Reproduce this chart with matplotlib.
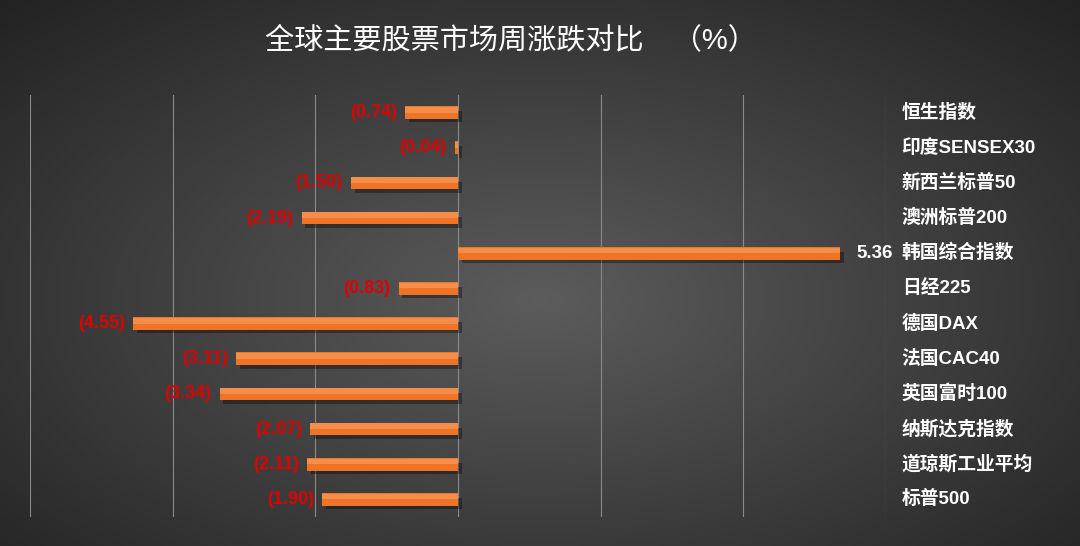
import matplotlib
matplotlib.use("Agg")
import matplotlib.pyplot as plt
import numpy as np

plt.rcParams['font.family'] = ['Liberation Sans', 'Noto Sans CJK SC', 'DejaVu Sans']

categories = ["恒生指数", "印度SENSEX30", "新西兰标普50", "澳洲标普200", "韩国综合指数",
              "日经225", "德国DAX", "法国CAC40", "英国富时100", "纳斯达克指数",
              "道琼斯工业平均", "标普500"]
values = [-0.74, -0.04, -1.50, -2.19, 5.36, -0.83, -4.55, -3.11, -3.34, -2.07, -2.11, -1.90]

W, H = 1080, 546
fig = plt.figure(figsize=(W/100, H/100), dpi=100)

bg = fig.add_axes([0, 0, 1, 1])
yy, xx = np.mgrid[0:1:200j, 0:1:400j]
r = np.sqrt(((xx-0.5)/0.7)**2 + ((yy-0.45)/0.75)**2)
g = np.clip(0.36 - 0.22*r, 0.12, 0.4)
bg.imshow(np.dstack([g, g, g]), extent=[0, 1, 0, 1], aspect='auto', origin='lower')
bg.axis('off')

ax = fig.add_axes([30/W, 1-517/H, (886-30)/W, (517-95)/H])
ax.patch.set_alpha(0)
ax.set_xlim(-6, 6)
n = len(categories)
ax.set_ylim(n-0.5, -0.5)
ys = np.arange(n)
for x in [-6, -4, -2, 0, 2, 4, 6]:
    ax.axvline(x, color='#8a8a8a', lw=0.8, zorder=0)
ax.barh(ys+0.12, values, left=0.05, height=0.32, color='black', alpha=0.35, zorder=1)
ax.barh(ys, values, height=0.36, color='#F07428', zorder=2)
ax.barh(ys-0.08, values, height=0.16, color='#F8A060', alpha=0.6, zorder=3, lw=0)

for y, v, c in zip(ys, values, categories):
    if v < 0:
        ax.text(v-0.12, y, f"({abs(v):.2f})", color='#E00000', fontsize=13,
                fontweight='bold', ha='right', va='center')
    else:
        ax.text(v+0.22, y, f"{v:.2f}", color='white', fontsize=13.5,
                fontweight='bold', ha='left', va='center')
    ax.text(6.22, y, c, color='white', fontsize=13.5, fontweight='bold',
            ha='left', va='center')

for s in ax.spines.values():
    s.set_visible(False)
ax.set_xticks([]); ax.set_yticks([])

fig.text(0.473, 1-40/H, "全球主要股票市场周涨跌对比　（%）", color='white', fontsize=21,
         ha='center', va='center')
fig.savefig("out.png", dpi=100)
